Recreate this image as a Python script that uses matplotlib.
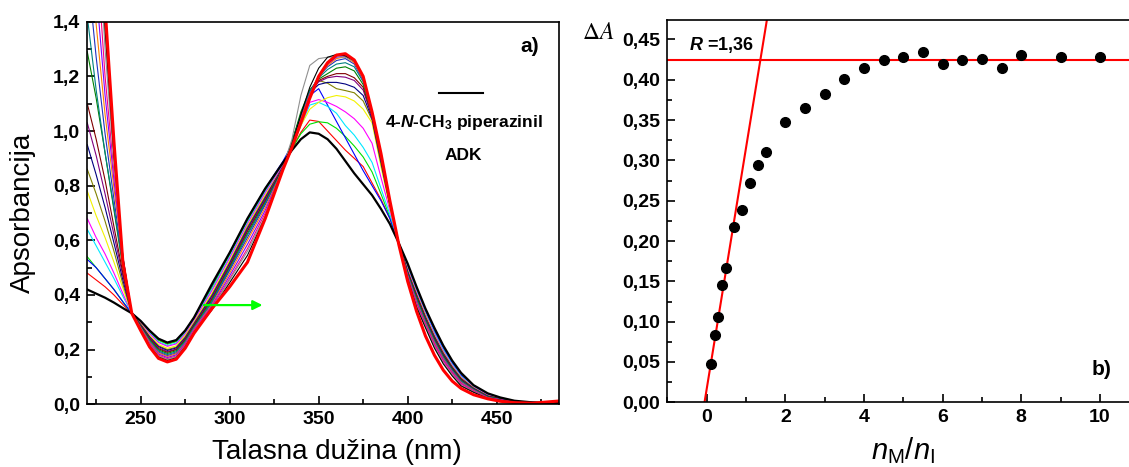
import numpy as np
import matplotlib
matplotlib.use("Agg")
import matplotlib.pyplot as plt
from matplotlib.ticker import MultipleLocator

plt.rcParams['font.family'] = ['Liberation Sans', 'DejaVu Sans']
plt.rcParams['mathtext.fontset'] = 'custom'
plt.rcParams['mathtext.it'] = 'Liberation Sans:italic'
plt.rcParams['mathtext.rm'] = 'Liberation Sans'
plt.rcParams['mathtext.bf'] = 'Liberation Sans:bold'
plt.rcParams['mathtext.sf'] = 'Liberation Sans:italic:bold'

# ---------------- panel a) : titration spectra (read off the picture) ----------------
wl = [220, 225, 230, 235, 240, 245, 250, 255, 260, 265, 270, 275, 280, 290, 300, 310, 320, 330,
      335, 340, 345, 350, 355, 360, 365, 370, 375, 380, 385, 390, 395, 400, 405, 410,
      415, 420, 425, 430, 437, 445, 452, 460, 470, 485]

s_black = [.42, .405, .39, .372, .352, .333, .305, .27, .24, .226, .235, .27, .318, .44, .555, .68, .79, .885,
           .93, .97, .995, .99, .97, .935, .89, .845, .805, .765, .715, .66, .59, .515, .43, .35,
           .28, .215, .16, .115, .07, .04, .025, .013, .007, .004]
s_red = [.48, .455, .43, .40, .365, .333, .303, .267, .236, .222, .231, .266, .315, .43, .55, .675, .785, .88,
         .935, .995, 1.04, 1.035, 1.0, .965, .93, .90, .87, .81, .75, .68, .59, .51, .425, .345,
         .274, .21, .156, .11, .068, .038, .024, .012, .007, .004]
s_green = [.54, .50, .46, .42, .375, .333, .302, .265, .234, .22, .229, .264, .313, .428, .548, .672, .783, .878,
           .935, .99, 1.025, 1.034, 1.03, 1.01, .98, .945, .905, .85, .77, .685, .59, .505, .42, .34,
           .269, .205, .152, .107, .066, .036, .023, .011, .007, .004]
s_blue = [.53, .50, .46, .42, .375, .333, .305, .27, .24, .225, .235, .27, .318, .435, .555, .68, .79, .89,
          .95, 1.03, 1.13, 1.155, 1.095, 1.035, .975, .915, .855, .80, .745, .68, .59, .505, .42, .34,
          .269, .205, .152, .107, .066, .036, .023, .011, .007, .004]
s_cyan = [.64, .58, .52, .46, .395, .333, .30, .261, .229, .215, .224, .26, .309, .42, .54, .665, .778, .878,
          .945, 1.02, 1.095, 1.105, 1.09, 1.065, 1.02, .985, .94, .885, .79, .695, .59, .50, .415, .335,
          .263, .20, .147, .103, .064, .034, .023, .010, .007, .004]
s_magenta = [.68, .61, .55, .48, .405, .333, .298, .258, .226, .212, .221, .257, .307, .415, .535, .66, .773, .875,
             .945, 1.025, 1.105, 1.115, 1.105, 1.09, 1.07, 1.045, 1.01, .955, .83, .71, .59, .495, .41, .33,
             .258, .195, .143, .10, .062, .033, .022, .010, .007, .004]
s_yellow = [.78, .69, .61, .52, .425, .333, .295, .252, .219, .205, .214, .251, .301, .405, .525, .652, .765, .87,
            .945, 1.02, 1.08, 1.105, 1.122, 1.13, 1.125, 1.11, 1.08, 1.03, .87, .72, .59, .49, .405, .325,
            .252, .19, .139, .097, .06, .031, .021, .009, .006, .004]
s_dkyellow = [.86, .77, .67, .56, .44, .333, .292, .248, .214, .20, .209, .246, .297, .40, .52, .648, .76, .87,
              .96, 1.06, 1.15, 1.185, 1.175, 1.155, 1.148, 1.14, 1.11, 1.04, .88, .725, .59, .487, .40, .32,
              .249, .187, .137, .095, .059, .030, .021, .009, .006, .004]
s_navy = [.95, .84, .72, .59, .455, .333, .291, .246, .211, .197, .206, .243, .294, .395, .515, .643, .755, .87,
          .96, 1.06, 1.14, 1.17, 1.178, 1.178, 1.172, 1.16, 1.13, 1.045, .89, .73, .59, .485, .40, .318,
          .247, .185, .135, .093, .058, .030, .020, .009, .006, .004]
s_purple = [1.03, .91, .77, .62, .47, .333, .289, .242, .207, .193, .202, .24, .291, .39, .51, .638, .75, .87,
            .96, 1.06, 1.14, 1.18, 1.195, 1.20, 1.197, 1.185, 1.15, 1.05, .895, .735, .59, .482, .398, .315,
            .243, .182, .132, .091, .057, .029, .020, .009, .006, .004]
s_wine = [1.10, .97, .82, .65, .48, .333, .287, .24, .203, .19, .20, .237, .289, .385, .505, .633, .745, .865,
          .955, 1.055, 1.14, 1.185, 1.20, 1.21, 1.21, 1.195, 1.16, 1.055, .90, .735, .59, .48, .395, .312,
          .241, .18, .131, .09, .056, .028, .020, .008, .006, .004]
s_dkgreen = [1.29, 1.12, .92, .71, .50, .333, .285, .236, .199, .186, .196, .233, .285, .38, .50, .625, .74, .865,
             .96, 1.07, 1.15, 1.19, 1.21, 1.23, 1.235, 1.22, 1.17, 1.06, .905, .74, .59, .477, .39, .308,
             .237, .176, .128, .087, .055, .027, .019, .008, .006, .004]
s_dkcyan = [1.42, 1.15, .92, .72, .51, .333, .283, .233, .195, .182, .192, .23, .282, .375, .495, .62, .735, .86,
            .95, 1.06, 1.145, 1.195, 1.225, 1.245, 1.25, 1.235, 1.18, 1.06, .91, .74, .59, .475, .385, .305,
            .233, .173, .125, .085, .054, .026, .018, .008, .006, .004]
s_royal = [1.6, 1.27, .99, .75, .52, .333, .281, .229, .191, .178, .188, .226, .279, .37, .49, .61, .73, .86,
           .95, 1.05, 1.14, 1.20, 1.235, 1.258, 1.265, 1.245, 1.185, 1.065, .91, .742, .588, .472, .38, .30,
           .23, .17, .123, .083, .053, .025, .018, .007, .006, .004]
s_orange = [1.75, 1.39, 1.06, .79, .53, .333, .28, .227, .188, .175, .185, .223, .276, .365, .48, .60, .72, .86,
            .945, 1.045, 1.135, 1.20, 1.24, 1.265, 1.272, 1.25, 1.19, 1.065, .912, .743, .588, .47, .375, .297,
            .226, .166, .119, .08, .051, .024, .017, .007, .006, .004]
s_violet = [1.95, 1.52, 1.13, .82, .535, .333, .278, .223, .184, .171, .181, .22, .273, .36, .47, .585, .71, .86,
            .94, 1.04, 1.13, 1.20, 1.245, 1.27, 1.276, 1.255, 1.195, 1.068, .914, .744, .587, .468, .37, .293,
            .221, .162, .116, .077, .049, .023, .017, .007, .006, .004]
s_pink = [2.15, 1.68, 1.20, .85, .54, .333, .276, .22, .18, .167, .177, .216, .27, .355, .46, .57, .70, .86,
          .94, 1.035, 1.125, 1.20, 1.25, 1.275, 1.28, 1.258, 1.197, 1.068, .915, .745, .587, .465, .365, .29,
          .217, .158, .113, .074, .048, .022, .016, .007, .006, .004]
s_gray = [2.4, 1.85, 1.30, .88, .54, .333, .274, .218, .177, .164, .174, .213, .267, .35, .455, .56, .69, .87,
          .97, 1.13, 1.24, 1.265, 1.27, 1.272, 1.27, 1.255, 1.195, 1.068, .915, .745, .587, .462, .36, .285,
          .21, .152, .108, .07, .046, .021, .015, .006, .006, .004]
s_black2 = [2.6, 2.0, 1.37, .91, .54, .333, .272, .214, .173, .16, .17, .21, .264, .345, .445, .545, .685, .865,
            .95, 1.06, 1.16, 1.23, 1.27, 1.28, 1.275, 1.258, 1.20, 1.07, .916, .745, .586, .46, .355, .28,
            .206, .148, .104, .067, .044, .021, .015, .006, .006, .004]
s_red2 = [2.8, 2.2, 1.45, .96, .52, .333, .27, .21, .168, .155, .165, .205, .26, .35, .43, .52, .68, .86,
          .94, 1.03, 1.12, 1.20, 1.25, 1.278, 1.283, 1.26, 1.20, 1.07, .918, .745, .585, .45, .34, .25,
          .18, .125, .085, .058, .035, .020, .011, .006, .004, .012]

arrow_from = (284, 0.363)
arrow_to = (320, 0.363)

xticks_a = [250, 300, 350, 400, 450]
yticks_a = [0.0, 0.2, 0.4, 0.6, 0.8, 1.0, 1.2, 1.4]
ylabels_a = ['0,0', '0,2', '0,4', '0,6', '0,8', '1,0', '1,2', '1,4']

# ---------------- panel b) : mole ratio plot ----------------
ratio = [0.1, 0.2, 0.3, 0.4, 0.5, 0.7, 0.9, 1.1, 1.3, 1.5, 2.0, 2.5, 3.0, 3.5, 4.0,
         4.5, 5.0, 5.5, 6.0, 6.5, 7.0, 7.5, 8.0, 9.0, 10.0]
dA = [0.048, 0.083, 0.106, 0.145, 0.166, 0.217, 0.239, 0.272, 0.294, 0.310, 0.347, 0.365, 0.382, 0.401, 0.414,
      0.424, 0.428, 0.434, 0.420, 0.425, 0.426, 0.415, 0.431, 0.428, 0.428]
fit_slope = 0.299
fit_intercept = 0.0164
plateau = 0.424

xticks_b = [0, 2, 4, 6, 8, 10]
yticks_b = [0.0, 0.05, 0.10, 0.15, 0.20, 0.25, 0.30, 0.35, 0.40, 0.45]
ylabels_b = ['0,00', '0,05', '0,10', '0,15', '0,20', '0,25', '0,30', '0,35', '0,40', '0,45']

fig = plt.figure(figsize=(11.29, 4.67), dpi=100)


def style_axes(a):
    a.tick_params(which='both', direction='in', top=False, right=False, labelsize=14, width=1.2, pad=5)
    a.tick_params(which='major', length=6)
    a.tick_params(which='minor', length=3.5)
    for lab in a.get_xticklabels() + a.get_yticklabels():
        lab.set_fontweight('bold')
    for sp in a.spines.values():
        sp.set_linewidth(1.2)


# ---- a)
ax = fig.add_axes([0.0773, 0.1343, 0.4178, 0.8192])
thin = [(s_red, '#FF0000'), (s_green, '#00E000'), (s_blue, '#0000FF'), (s_cyan, '#00E8FF'),
        (s_magenta, '#FF00FF'), (s_yellow, '#F2F200'), (s_dkyellow, '#808000'), (s_navy, '#000080'),
        (s_purple, '#800080'), (s_wine, '#800000'), (s_dkgreen, '#008000'), (s_dkcyan, '#008080'),
        (s_royal, '#2030C0'), (s_orange, '#FF8000'), (s_violet, '#8000FF'), (s_pink, '#FF0080'),
        (s_gray, '#909090'), (s_black2, '#000000')]
for s, c in thin:
    ax.plot(wl, s, color=c, lw=0.8)
ax.plot(wl, s_black, color='black', lw=1.6)
ax.plot(wl, s_red2, color='#FF0000', lw=2.2)

ax.annotate('', xy=arrow_to, xytext=arrow_from,
            arrowprops=dict(arrowstyle='-|>', color='#00FF00', lw=1.6, mutation_scale=14))

ax.set_xlim(220, 485)
ax.set_ylim(0, 1.4)
ax.set_xticks(xticks_a)
ax.set_yticks(yticks_a, ylabels_a)
ax.xaxis.set_minor_locator(MultipleLocator(25))
ax.yaxis.set_minor_locator(MultipleLocator(0.1))
style_axes(ax)
ax.set_xlabel('Talasna dužina (nm)', fontsize=20)
ax.xaxis.set_label_coords(0.529, -0.09)
ax.set_ylabel('Apsorbancija', fontsize=20, labelpad=12)

ax.text(0.938, 0.934, 'a)', transform=ax.transAxes, fontsize=15, fontweight='bold', ha='center', va='center')
ax.plot([417.5, 442.5], [1.139, 1.139], color='black', lw=1.5)
ax.text(431.5, 1.03, '4-$\\mathsf{N}$-CH$_\\mathbf{3}$ piperazinil', fontsize=12.5, fontweight='bold',
        ha='center', va='center')
ax.text(431.5, 0.912, 'ADK', fontsize=12.5, fontweight='bold', ha='center', va='center')

# ---- b)
bx = fig.add_axes([0.5911, 0.1385, 0.418, 0.8186])
bx.axhline(plateau, color='#FF0000', lw=1.5, zorder=2)
bx.axline((0, fit_intercept), slope=fit_slope, color='#FF0000', lw=1.5, zorder=2)
bx.plot(ratio, dA, 'o', color='black', ms=7, zorder=3)
bx.set_xlim(-1, 11)
bx.set_ylim(0, 0.474)
bx.set_xticks(xticks_b)
bx.set_yticks(yticks_b, ylabels_b)
bx.xaxis.set_minor_locator(MultipleLocator(1))
bx.yaxis.set_minor_locator(MultipleLocator(0.025))
style_axes(bx)
bx.set_xlabel('$n_{\\mathrm{M}}/n_{\\mathrm{I}}$', fontsize=21)
bx.xaxis.set_label_coords(0.5, -0.085)
bx.text(-0.45, 0.443, '$\\mathsf{R}$ =1,36', fontsize=13, fontweight='bold', ha='left', va='center')
bx.text(10.05, 0.041, 'b)', fontsize=15, fontweight='bold', ha='center', va='center')
fig.text(0.530, 0.929, '$\\Delta A$', fontsize=17, math_fontfamily='stix', ha='center', va='center')

fig.savefig('out.png', dpi=100)
